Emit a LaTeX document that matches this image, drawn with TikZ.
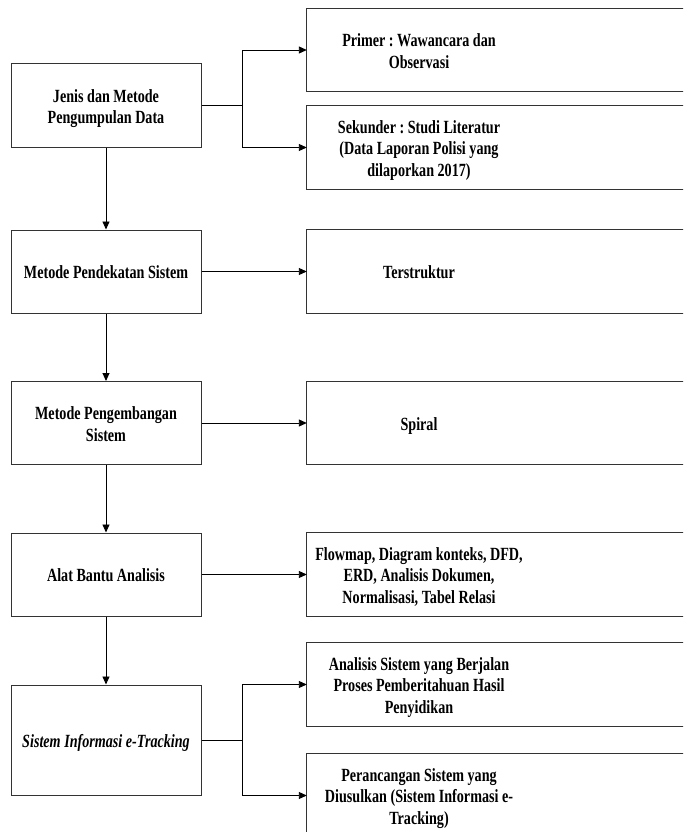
\documentclass[tikz,border=0pt]{standalone}
\usepackage{fontspec}
\usepackage{graphicx}
\setmainfont{Liberation Serif}
\frenchspacing
\usetikzlibrary{arrows.meta,calc}
% narrow, centred block of lines, set a little low in its box
\newcommand{\narrowtext}[1]{\raisebox{-3pt}[\height][\depth]{\scalebox{0.76}[1]{\begin{tabular}{@{}c@{}}#1\end{tabular}}}}
\tikzset{
  leftbox/.style={draw=black!80, line width=1pt, minimum width=190pt, minimum height=83pt,
    inner sep=0pt, font=\fontsize{18.6}{21.5}\selectfont\bfseries},
  rightbox/.style={minimum width=224pt, minimum height=83pt, inner sep=0pt,
    font=\fontsize{18.6}{21.5}\selectfont\bfseries},
  frame/.style={draw=black!80, line width=1pt},
  link/.style={draw=black, line width=0.9pt},
  arrowlink/.style={link, -{Triangle[length=8pt,width=7pt]}},
}
\begin{document}
\begin{tikzpicture}[x=1pt,y=-1pt]
\useasboundingbox (0,0) rectangle (683,832);
\clip (0,0) rectangle (683,832);

% main column
\node[leftbox] (a) at (106,105.5) {\narrowtext{Jenis dan Metode\\Pengumpulan Data}};
\node[leftbox] (b) at (106,271.5) {\narrowtext{Metode Pendekatan Sistem}};
\node[leftbox] (c) at (106,423) {\narrowtext{Metode Pengembangan\\Sistem}};
\node[leftbox] (d) at (106,574.5) {\narrowtext{Alat Bantu Analisis}};
\node[leftbox, minimum height=110pt] (e) at (106,740) {\narrowtext{\itshape Sistem Informasi e-Tracking}};

% right column (boxes run past the right edge)
\node[rightbox] (r1) at (419,50) {\narrowtext{Primer : Wawancara dan\\Observasi}};
\node[rightbox] (r2) at (419,147.5) {\narrowtext{Sekunder : Studi Literatur\\(Data Laporan Polisi yang\\dilaporkan 2017)}};
\node[rightbox] (r3) at (419,271.5) {\narrowtext{Terstruktur}};
\node[rightbox] (r4) at (419,423) {\narrowtext{Spiral}};
\node[rightbox] (r5) at (419,574.5) {\narrowtext{Flowmap, Diagram konteks, DFD,\\ERD, Analisis Dokumen,\\Normalisasi, Tabel Relasi}};
\node[rightbox] (r6) at (419,684.5) {\narrowtext{Analisis Sistem yang Berjalan\\Proses Pemberitahuan Hasil\\Penyidikan}};
\node[rightbox] (r7) at (419,795.5) {\narrowtext{Perancangan Sistem yang\\Diusulkan (Sistem Informasi e-\\Tracking)}};

\foreach \n in {r1,r2,r3,r4,r5,r6,r7}
  \draw[frame] (\n.north west) rectangle ([xshift=300pt]\n.south east);

% vertical flow
\draw[arrowlink] (a.south) -- (b.north);
\draw[arrowlink] (b.south) -- (c.north);
\draw[arrowlink] (c.south) -- (d.north);
\draw[arrowlink] (d.south) -- (e.north);

% horizontal links
\draw[link] (a.east) -- ++(41,0) coordinate (ja);
\draw[arrowlink] (ja) |- (r1.west);
\draw[arrowlink] (ja) |- (r2.west);
\draw[arrowlink] (b.east) -- (r3.west);
\draw[arrowlink] (c.east) -- (r4.west);
\draw[arrowlink] (d.east) -- (r5.west);
\draw[link] (e.east) -- ++(41,0) coordinate (je);
\draw[arrowlink] (je) |- (r6.west);
\draw[arrowlink] (je) |- (r7.west);
\end{tikzpicture}
\end{document}
